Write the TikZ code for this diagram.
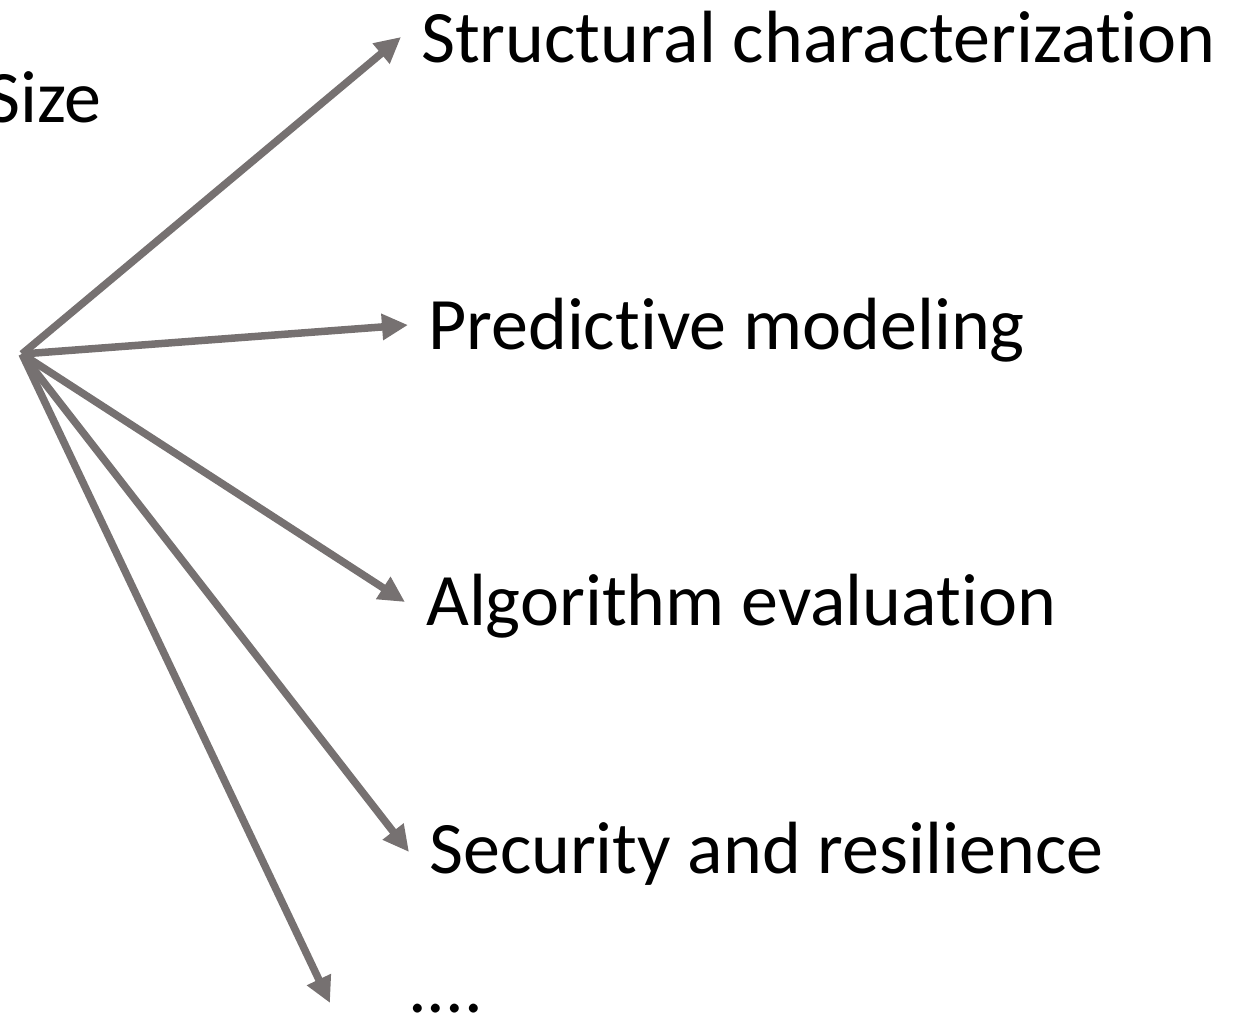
\documentclass[tikz,border=0pt]{standalone}
\usepackage{fontspec}
\setmainfont{Carlito}[RawFeature={-liga;-dlig;-clig}]
\usetikzlibrary{arrows.meta}
\definecolor{arrowgray}{HTML}{767171}
\tikzset{
  lbl/.style={anchor=base west, inner sep=0pt, font=\fontsize{74}{88}\selectfont, text=black},
  link/.style={draw=arrowgray, line width=7.5pt, -{Triangle[length=26pt, width=25pt]}}
}
\begin{document}
\begin{tikzpicture}[x=1pt, y=-1pt]
  \useasboundingbox (0,0) rectangle (1243,1024);
  % hub of the fan of arrows
  \coordinate (o) at (22,354);
  % arrow tips
  \coordinate (t1) at (401,37);
  \coordinate (t2) at (408,325);
  \coordinate (t3) at (405,602);
  \coordinate (t4) at (409,852);
  \coordinate (t5) at (330,1003);
  % labels
  \node[lbl] (size) at (-14,123) {Size};
  \node[lbl] (struct) at (421,63) {Structural characterization};
  \node[lbl] (pred) at (428,350) {Predictive modeling};
  \node[lbl] (algo) at (426,625) {Algorithm evaluation};
  \node[lbl] (sec) at (429,873) {Security and resilience};
  \node[lbl] (more) at (408,1012) {....};
  % arrows
  \draw[link] (o) -- (t1);
  \draw[link] (o) -- (t2);
  \draw[link] (o) -- (t3);
  \draw[link] (o) -- (t4);
  \draw[link] (o) -- (t5);
\end{tikzpicture}
\end{document}
